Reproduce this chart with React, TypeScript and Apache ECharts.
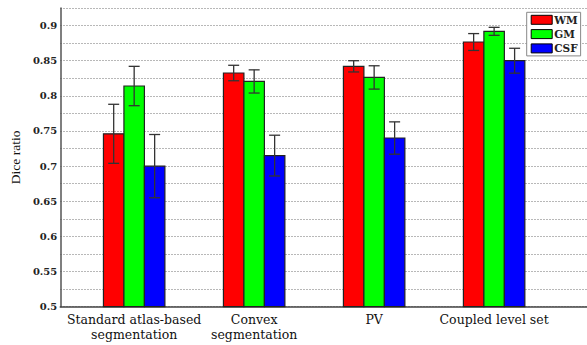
import React, { useEffect, useRef } from "react";
import * as echarts from "echarts";

// Methods compared on the x axis
const categories = [
  "Standard atlas-based\nsegmentation",
  "Convex\nsegmentation",
  "PV",
  "Coupled level set",
];

// Tissue classes
const seriesNames = ["WM", "GM", "CSF"];
const seriesColors = ["#ff0000", "#00ff00", "#0000ff"];

// Mean Dice ratio per method
const wmMean = [0.746, 0.8325, 0.842, 0.8766];
const gmMean = [0.814, 0.8205, 0.8262, 0.8918];
const csfMean = [0.7, 0.715, 0.74, 0.85];

// Standard deviation (error bar half-length)
const wmStd = [0.042, 0.011, 0.008, 0.012];
const gmStd = [0.028, 0.0165, 0.0166, 0.0057];
const csfStd = [0.045, 0.029, 0.023, 0.0177];

const yTicks = [0.5, 0.55, 0.6, 0.65, 0.7, 0.75, 0.8, 0.85, 0.9];

const means = [wmMean, gmMean, csfMean];
const stds = [wmStd, gmStd, csfStd];

const BAR_FRACTION = 0.1707; // bar width relative to group spacing
const Y_MIN = 0.5;

function makeRenderItem(seriesIdx: number) {
  return (params: any, api: any) => {
    const x = api.value(0);
    const y = api.value(1);
    const e = api.value(2);
    const base = api.coord([x, Y_MIN]);
    const top = api.coord([x, y]);
    const unit = api.size([1, 0])[0];
    const bw = unit * BAR_FRACTION;
    const cx = base[0] + (seriesIdx - 1) * bw;
    const hi = api.coord([x, y + e])[1];
    const lo = api.coord([x, y - e])[1];
    const cap = 5.5;
    const lineStyle = { stroke: "#333", lineWidth: 1.3 };
    return {
      type: "group",
      children: [
        {
          type: "rect",
          shape: { x: cx - bw / 2, y: top[1], width: bw, height: base[1] - top[1] },
          style: { fill: seriesColors[seriesIdx], stroke: "#222", lineWidth: 1.2 },
        },
        { type: "line", shape: { x1: cx, y1: hi, x2: cx, y2: lo }, style: lineStyle },
        { type: "line", shape: { x1: cx - cap, y1: hi, x2: cx + cap, y2: hi }, style: lineStyle },
        { type: "line", shape: { x1: cx - cap, y1: lo, x2: cx + cap, y2: lo }, style: lineStyle },
      ],
    };
  };
}

export default function App() {
  const ref = useRef<HTMLDivElement>(null);

  useEffect(() => {
    if (!ref.current) return;
    const chart = echarts.init(ref.current, undefined, { renderer: "svg" });

    const series = seriesNames.map((name, s) => ({
      name,
      type: "custom",
      renderItem: makeRenderItem(s),
      itemStyle: { color: seriesColors[s] },
      encode: { x: 0, y: 1 },
      data: means[s].map((v, i) => [i + 1, v, stds[s][i]]),
      z: 3,
    }));

    chart.setOption({
      animation: false,
      backgroundColor: "#ffffff",
      grid: { left: 54, right: 0, top: 8, bottom: 38.3, containLabel: false },
      legend: {
        orient: "vertical",
        left: 526.7,
        top: 12.3,
        padding: [2, 3, 2, 4],
        itemGap: 3.3,
        itemWidth: 21,
        itemHeight: 9,
        backgroundColor: "#ffffff",
        borderColor: "#888",
        borderWidth: 1,
        borderRadius: 0,
        data: seriesNames.map((n, i) => ({
          name: n,
          icon: "rect",
          itemStyle: { color: seriesColors[i], borderColor: "#000", borderWidth: 1 },
        })),
        textStyle: {
          fontFamily: "DejaVu Serif",
          fontWeight: "bold",
          fontSize: 10.5,
          color: "#222",
          padding: [0, 0, 0, -3],
        },
      },
      xAxis: {
        type: "value",
        min: 0.384,
        max: 4.774,
        axisLine: { show: true, onZero: false, lineStyle: { color: "#444", width: 1.5 } },
        axisTick: { show: false },
        splitLine: { show: false },
        axisLabel: {
          customValues: [1, 2, 3, 4],
          formatter: (v: number) => categories[Math.round(v) - 1] ?? "",
          fontFamily: "DejaVu Serif",
          fontSize: 12.5,
          lineHeight: 15,
          color: "#111",
          margin: 5,
          showMinLabel: true,
          showMaxLabel: true,
        },
      },
      yAxis: {
        type: "value",
        min: 0.5,
        max: 0.925,
        interval: 0.025,
        name: "Dice ratio",
        nameLocation: "middle",
        nameGap: 37,
        nameTextStyle: { fontFamily: "Liberation Serif", fontSize: 13.5, color: "#111" },
        axisLine: { show: true, lineStyle: { color: "#555", width: 1.5 } },
        axisTick: { show: false },
        splitLine: {
          show: true,
          lineStyle: { color: "#a0a0a0", type: [1.5, 1.5], width: 1 },
        },
        axisLabel: {
          margin: 3,
          fontFamily: "DejaVu Serif",
          fontWeight: "bold",
          fontSize: 10,
          color: "#222",
          formatter: (v: number) => {
            const hit = yTicks.find((t) => Math.abs(t - v) < 1e-6);
            return hit === undefined ? "" : String(hit);
          },
        },
      },
      series,
    });

    return () => chart.dispose();
  }, []);

  return (
    <div
      ref={ref}
      style={{ position: "absolute", left: 0, top: 0, width: 587, height: 345 }}
    />
  );
}
